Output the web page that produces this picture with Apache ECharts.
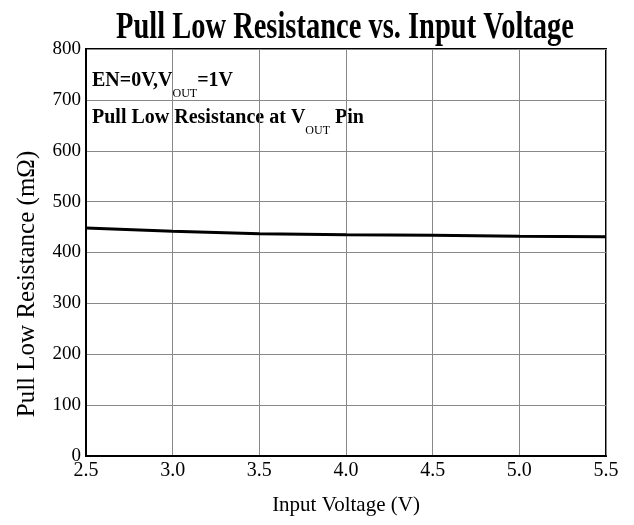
<!DOCTYPE html>
<html>
<head>
<meta charset="utf-8">
<script src="https://cdn.jsdelivr.net/npm/echarts@6/dist/echarts.min.js"></script>
<style>
	html,body{margin:0;padding:0;background:#fff;}
	#main{width:634px;height:525px;}
</style>
</head>
<body>
<div id="main"></div>
<script>
// data
var voltage = [2.5, 3.0, 3.5, 4.0, 4.5, 5.0, 5.5];
var resistance = [448, 442, 437, 435, 434, 432, 431];
var xTicks = [2.5, 3.0, 3.5, 4.0, 4.5, 5.0, 5.5];
var yTicks = [0, 100, 200, 300, 400, 500, 600, 700, 800];

var serif = '"Liberation Serif", "Times New Roman", serif';

var points = [];
for(var i = 0; i < voltage.length; i++){
	points.push([voltage[i], resistance[i]]);
}

var myChart = echarts.init(document.getElementById('main'));

// rich styles for the V_OUT subscript
var rich = {
	b: {fontFamily: serif, fontSize: 20, fontWeight: 'bold', color: '#000'},
	s: {fontFamily: serif, fontSize: 12, color: '#000', padding: [26, 0, 0, 0]}
};

var option = {
	backgroundColor: '#fff',
	animation: false,
	grid: {
		left: 86, right: 28, top: 49, bottom: 69,
		show: true,
		borderColor: '#000',
		borderWidth: 2
	},
	xAxis: {
		type: 'value',
		min: xTicks[0],
		max: xTicks[xTicks.length - 1],
		interval: 0.5,
		name: 'Input Voltage (V)',
		nameLocation: 'middle',
		nameGap: 39,
		nameTextStyle: {fontFamily: serif, fontSize: 21, color: '#000'},
		axisLine: {show: true, lineStyle: {color: '#000', width: 2}},
		axisTick: {show: false},
		axisLabel: {
			margin: 5,
			fontFamily: serif, fontSize: 20, color: '#000',
			formatter: function(v){ return v.toFixed(1); }
		},
		splitLine: {show: true, lineStyle: {color: '#888', width: 1}}
	},
	yAxis: {
		type: 'value',
		min: yTicks[0],
		max: yTicks[yTicks.length - 1],
		interval: 100,
		axisLine: {show: true, lineStyle: {color: '#000', width: 2}},
		axisTick: {show: false},
		axisLabel: {margin: 5, fontFamily: serif, fontSize: 19, color: '#000'},
		splitLine: {show: true, lineStyle: {color: '#888', width: 1}}
	},
	series: [{
		type: 'line',
		data: points,
		symbol: 'none',
		smooth: false,
		lineStyle: {color: '#000', width: 3}
	}],
	graphic: [
		{
			type: 'text',
			x: 345, y: 28, scaleX: 0.77,
			style: {
				text: 'Pull Low Resistance vs. Input Voltage',
				font: 'bold 37px ' + serif,
				fill: '#000',
				align: 'center', verticalAlign: 'middle'
			}
		},
		{
			type: 'text',
			x: 27, y: 284, rotation: Math.PI / 2,
			style: {
				text: 'Pull Low Resistance (mΩ)',
				font: '25px ' + serif,
				fill: '#000',
				align: 'center', verticalAlign: 'middle'
			}
		},
		{
			type: 'text',
			x: 92, y: 81,
			style: {
				text: '{b|EN=0V,V}{s|OUT}{b|=1V}',
				rich: rich,
				align: 'left', verticalAlign: 'middle'
			}
		},
		{
			type: 'text',
			x: 92, y: 118,
			style: {
				text: '{b|Pull Low Resistance at V}{s|OUT}{b| Pin}',
				rich: rich,
				align: 'left', verticalAlign: 'middle'
			}
		}
	]
};
myChart.setOption(option);
</script>
</body>
</html>
